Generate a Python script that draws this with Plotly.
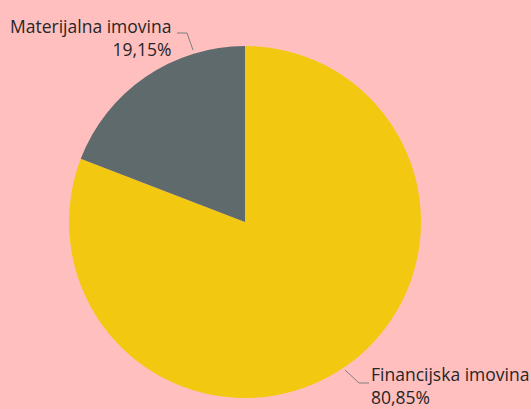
import plotly.graph_objects as go

labels = ["Financijska imovina", "Materijalna imovina"]
values = [80.85, 19.15]
value_text = ["80,85%", "19,15%"]

YELLOW = "#F2C811"
GREY = "#5E6A6C"
BG = "#FFBFBF"

W, H = 531, 409


def px_x(x):
    return x / W


def px_y(y):
    return 1 - y / H


fig = go.Figure(
    go.Pie(
        labels=labels,
        values=values,
        sort=False,
        direction="clockwise",
        rotation=0,
        textinfo="none",
        hoverinfo="label+percent",
        marker=dict(colors=[YELLOW, GREY], line=dict(width=0)),
        domain=dict(x=[px_x(245 - 176), px_x(245 + 176)],
                    y=[px_y(222 + 176), px_y(222 - 176)]),
        showlegend=False,
    )
)

font = dict(family="Open Sans, sans-serif", size=17.5, color="#262626")

fig.add_annotation(
    x=px_x(173), y=px_y(37), xref="paper", yref="paper",
    text=labels[1] + "<br>" + value_text[1],
    showarrow=False, xanchor="right", yanchor="middle", align="right",
    font=font,
)
fig.add_annotation(
    x=px_x(369), y=px_y(385), xref="paper", yref="paper",
    text=labels[0] + "<br>" + value_text[0],
    showarrow=False, xanchor="left", yanchor="middle", align="left",
    font=font,
)

line = dict(color="#7F7F7F", width=1)
for pts in ([(177, 33), (187, 33), (193, 50)],
            [(345, 370), (359, 383), (369, 383)]):
    path = "M " + " L ".join(f"{px_x(x)},{px_y(y)}" for x, y in pts)
    fig.add_shape(type="path", path=path, xref="paper", yref="paper", line=line)

fig.update_layout(
    width=W,
    height=H,
    margin=dict(l=0, r=0, t=0, b=0),
    paper_bgcolor=BG,
    plot_bgcolor=BG,
)

fig.write_html(
    "out.html",
    config={"displayModeBar": False},
    post_script="document.body.style.margin='0';document.body.style.background='" + BG + "';",
)
